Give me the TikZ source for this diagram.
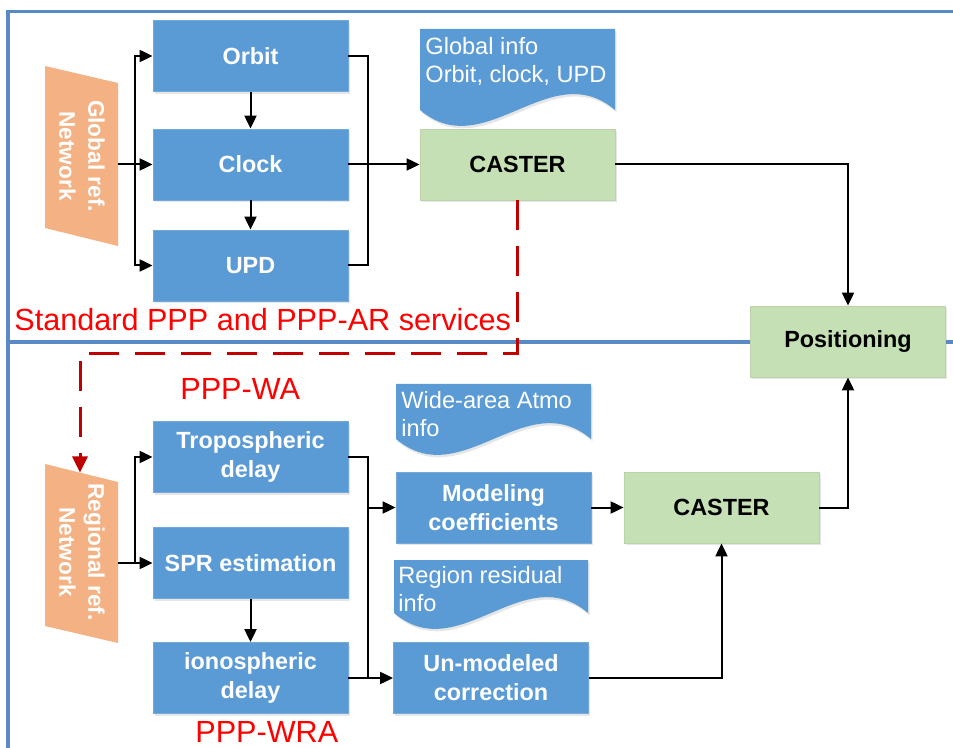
\documentclass[tikz,border=0pt]{standalone}
\usepackage{fontspec}
\setmainfont{Liberation Sans}
\usetikzlibrary{arrows.meta,shadows}
\definecolor{boxblue}{HTML}{5B9BD5}
\definecolor{boxgreen}{HTML}{C5E0B4}
\definecolor{netorange}{HTML}{F4B183}
\definecolor{frameblue}{HTML}{5A8AC6}
\definecolor{darkred}{HTML}{C00000}
\tikzset{
  proc/.style={draw=boxblue!85!white, fill=boxblue, text=white,
    font=\fontsize{11.7}{14.5}\selectfont\bfseries, align=center,
    minimum width=97.5pt, minimum height=35.5pt, inner sep=0pt,
    drop shadow={opacity=0.2, shadow xshift=0.8pt, shadow yshift=-1.2pt}},
  caster/.style={proc, fill=boxgreen, draw=boxgreen!85!gray, text=black},
  nettext/.style={text=white, font=\fontsize{11.3}{14.5}\selectfont\bfseries,
    align=center, rotate=-90, inner sep=0pt},
  infotext/.style={text=white, font=\fontsize{11.8}{14}\selectfont,
    align=left, anchor=north west, inner sep=0pt},
  redlabel/.style={text=red, font=\fontsize{15.3}{18}\selectfont,
    anchor=base west, inner sep=0pt},
  link/.style={line width=1pt},
  arr/.style={link, -{Triangle[length=6.5pt,width=6pt]}},
}
\begin{document}
\begin{tikzpicture}[x=0.5pt,y=-0.5pt]
  \useasboundingbox (0,0) rectangle (953,748);
  % frame and service separator
  \draw[frameblue, line width=1.6pt] (8,748) -- (8,11.5) -- (953,11.5);
  \draw[frameblue, line width=2.4pt] (8,342) -- (953,342);

  % reference networks
  \fill[netorange] (45,66) -- (118,83) -- (118,246) -- (45,228) -- cycle;
  \fill[netorange] (45,464) -- (118,482) -- (118,643) -- (45,626) -- cycle;
  \node[nettext] (gnet) at (82,156) {Global ref.\\Network};
  \node[nettext] (rnet) at (82,552) {Regional ref.\\Network};
  \coordinate (gnetout) at (118,164.5);
  \coordinate (rnetout) at (118,563);
  \coordinate (rnettop) at (80,472.5);

  % info documents
  \foreach \x/\y/\w/\b in {420/29/195/110, 396/384/195/439, 394/560/194/613} {
    \fill[boxblue, drop shadow={opacity=0.2, shadow xshift=0.8pt, shadow yshift=-1.2pt}]
      (\x,\y) -- (\x+\w,\y) -- (\x+\w,\b)
      .. controls (\x+\w*2/3,\b-55) and (\x+\w/3,\b+55) .. (\x,\b) -- cycle;
  }
  \node[infotext] (ginfo) at (425,37) {Global info\\Orbit, clock, UPD};
  \node[infotext] (winfo) at (401,391) {Wide-area Atmo\\info};
  \node[infotext] (rinfo) at (398,566) {Region residual\\info};

  % global part
  \node[proc] (orbit) at (250.5,56) {Orbit};
  \node[proc] (clock) at (250.5,164.5) {Clock};
  \node[proc] (upd) at (250.5,265.5) {UPD};
  \node[caster] (caster1) at (517.5,164.5) {CASTER};
  \node[caster] (pos) at (848,341.5) {Positioning};

  % regional part
  \node[proc] (tropo) at (250.5,457) {Tropospheric\\delay};
  \node[proc] (spr) at (250.5,563) {SPR estimation};
  \node[proc] (iono) at (250.5,678) {ionospheric\\delay};
  \node[proc] (model) at (493.5,507.5) {Modeling\\coefficients};
  \node[proc] (unmod) at (491,678) {Un-modeled\\correction};
  \node[caster] (caster2) at (721.5,507.5) {CASTER};

  % labels
  \node[redlabel] (stdlab) at (14,331) {Standard PPP and PPP-AR services};
  \node[redlabel] (walab) at (180,400) {PPP-WA};
  \node[redlabel] (wralab) at (195,742) {PPP-WRA};

  % connectors
  \draw[arr] (gnetout) -- (clock.west);
  \draw[arr] (gnetout) ++(17,0) |- (orbit.west);
  \draw[arr] (gnetout) ++(17,0) |- (upd.west);
  \draw[arr] (orbit) -- (clock);
  \draw[arr] (clock) -- (upd);
  \draw[link] (orbit.east) -- ++(20,0) |- (upd.east);
  \draw[arr] (clock.east) -- (caster1.west);
  \draw[arr] (caster1.east) -| (pos.north);

  \draw[arr] (rnetout) -- (spr.west);
  \draw[arr] (rnetout) ++(17,0) |- (tropo.west);
  \draw[arr] (spr) -- (iono);
  \draw[link] (tropo.east) -- ++(20,0) |- (iono.east);
  \draw[arr] (tropo.east) ++(20,0) |- (model.west);
  \draw[arr] (iono.east) -- (unmod.west);
  \draw[arr] (model.east) -- (caster2.west);
  \draw[arr] (unmod.east) -| (caster2.south);
  \draw[arr] (caster2.east) -| (pos.south);

  \draw[darkred, line width=1.5pt, dash pattern=on 15pt off 8pt,
    -{Triangle[length=8pt,width=7.5pt]}] (caster1.south) -- ++(0,153) -| (rnettop);
\end{tikzpicture}
\end{document}
